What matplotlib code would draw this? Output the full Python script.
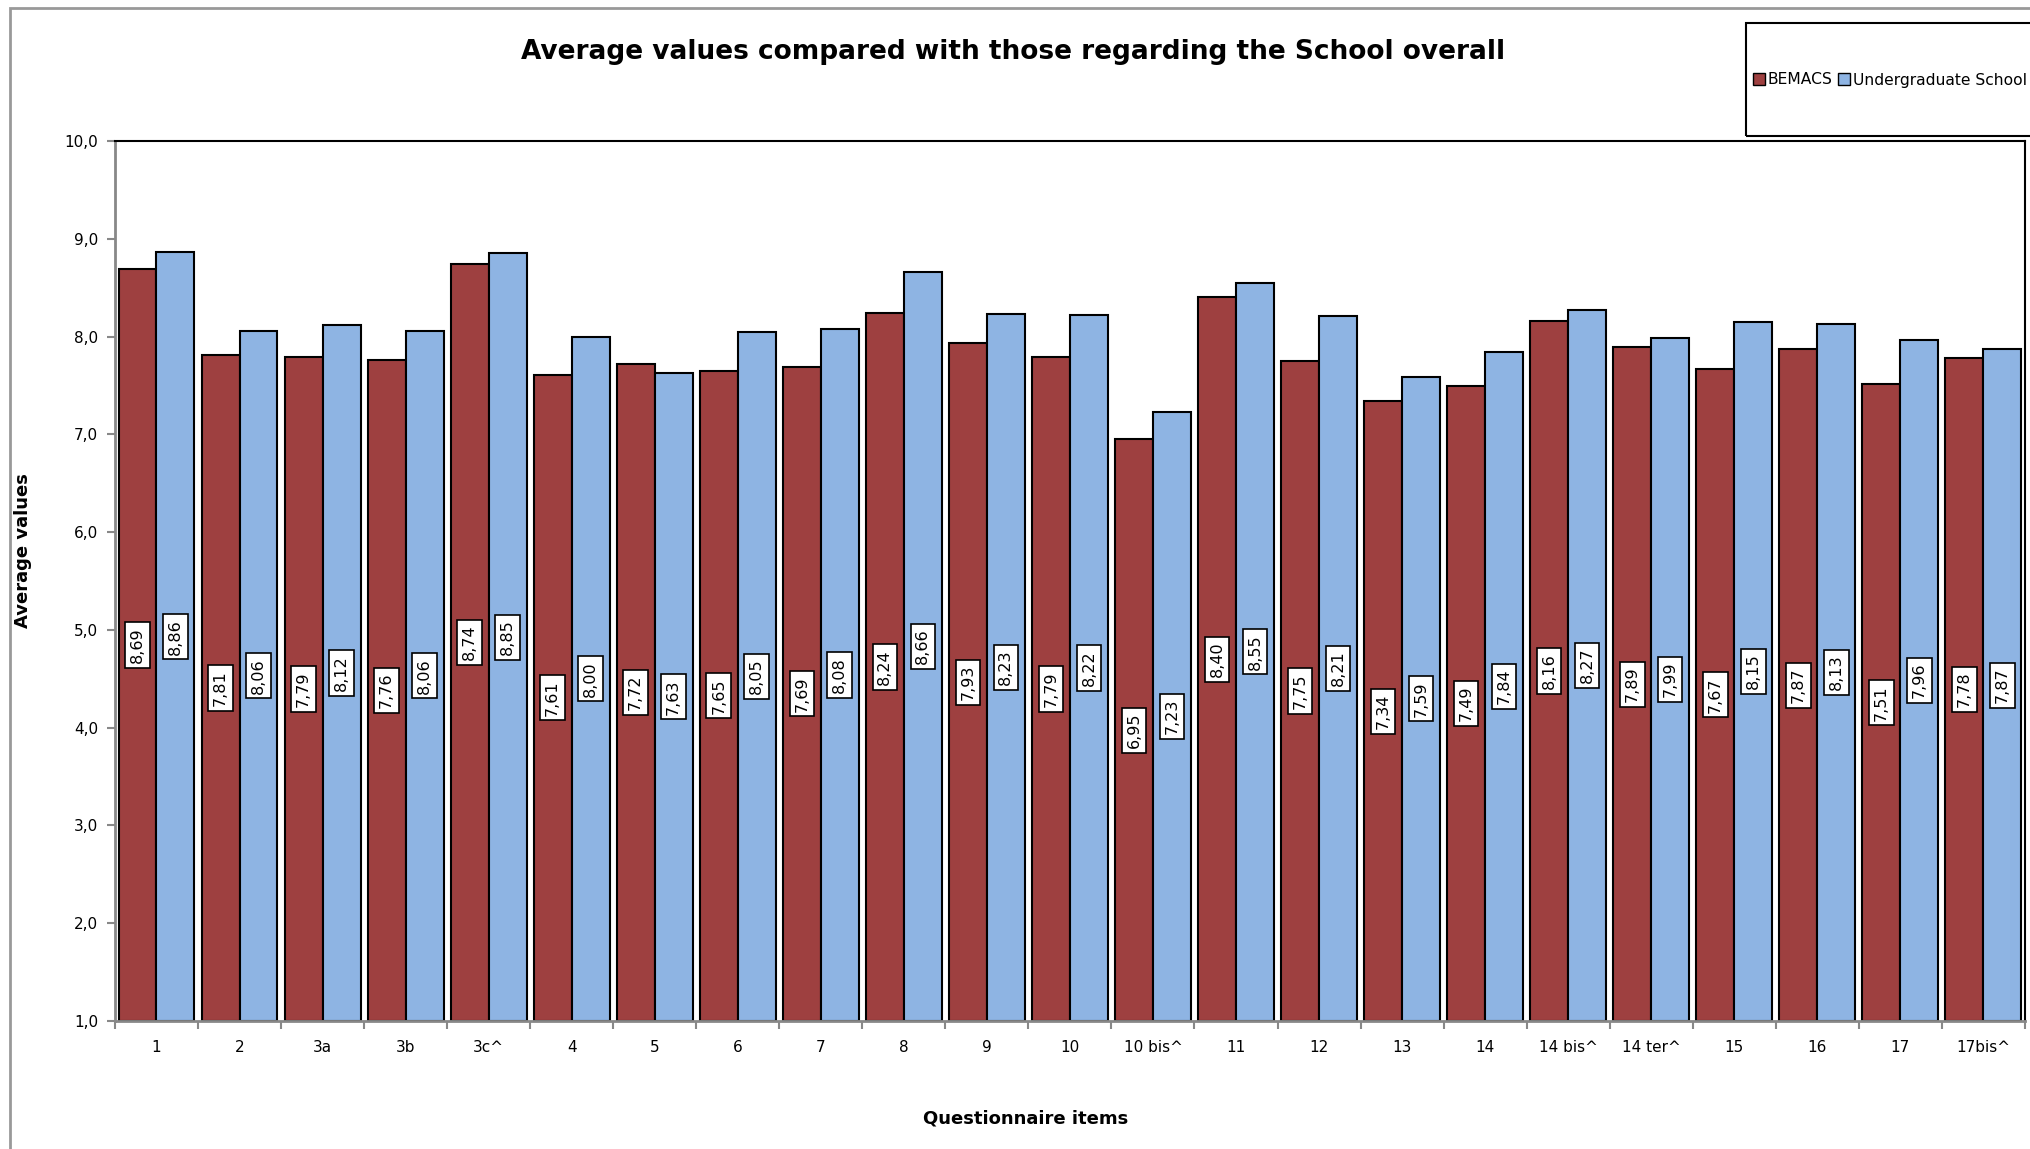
import numpy as np
import matplotlib
matplotlib.use('Agg')
import matplotlib.pyplot as plt
from matplotlib.patches import Rectangle, Patch
from matplotlib.ticker import FuncFormatter

# data
items = ['1', '2', '3a', '3b', '3c^', '4', '5', '6', '7', '8', '9', '10', '10 bis^',
         '11', '12', '13', '14', '14 bis^', '14 ter^', '15', '16', '17', '17bis^']
bemacs = [8.69, 7.81, 7.79, 7.76, 8.74, 7.61, 7.72, 7.65, 7.69, 8.24, 7.93, 7.79, 6.95,
          8.40, 7.75, 7.34, 7.49, 8.16, 7.89, 7.67, 7.87, 7.51, 7.78]
school = [8.86, 8.06, 8.12, 8.06, 8.85, 8.00, 7.63, 8.05, 8.08, 8.66, 8.23, 8.22, 7.23,
          8.55, 8.21, 7.59, 7.84, 8.27, 7.99, 8.15, 8.13, 7.96, 7.87]
series_names = ['BEMACS', 'Undergraduate School']
colors = ['#9E4040', '#8EB4E3']
base = 1.0

plt.rcParams['font.family'] = ['DejaVu Sans']

fig = plt.figure(figsize=(20.31, 11.49), dpi=100)
ax = fig.add_axes([0.0566, 0.1114, 0.9404, 0.7659])

x = np.arange(len(items))
w = 0.457
for vals, off, col in [(bemacs, -w / 2, colors[0]), (school, w / 2, colors[1])]:
    vals = np.array(vals)
    ax.bar(x + off, vals - base, w, bottom=base, color=col, edgecolor='black', linewidth=1.5, zorder=2)
    for xi, v in zip(x + off, vals):
        ax.text(xi, (v + base) / 2, f'{v:.2f}'.replace('.', ','), rotation=90,
                ha='center', va='center', fontsize=11.5, zorder=3,
                bbox=dict(boxstyle='square,pad=0.3', fc='white', ec='black', lw=1.2))

ax.set_xlim(-0.5, len(items) - 0.5)
ax.set_ylim(1, 10)
ax.set_yticks(np.arange(1, 11))
ax.yaxis.set_major_formatter(FuncFormatter(lambda v, p: f'{v:.1f}'.replace('.', ',')))
ax.set_xticks(x)
ax.set_xticklabels(items)
ax.set_xticks(np.arange(-0.5, len(items)), minor=True)
ax.tick_params(axis='x', which='major', length=0, pad=14, labelsize=11)
ax.tick_params(axis='x', which='minor', length=6, color='#888888', width=1.5)
ax.tick_params(axis='y', length=6, color='#888888', width=1.5, pad=6, labelsize=11)

for s in ['top', 'right']:
    ax.spines[s].set_color('black')
    ax.spines[s].set_linewidth(1.5)
for s in ['left', 'bottom']:
    ax.spines[s].set_color('#888888')
    ax.spines[s].set_linewidth(2)

ax.set_ylabel('Average values', fontsize=13, fontweight='bold')
ax.set_xlabel('Questionnaire items', fontsize=13, fontweight='bold')
ax.yaxis.set_label_coords(-0.0435, 0.535)
ax.xaxis.set_label_coords(0.477, -0.101)

fig.text(0.4988, 0.955, 'Average values compared with those regarding the School overall',
         ha='center', va='center', fontsize=19, fontweight='bold')

# outer chart border (cut off at the right and bottom like the screenshot)
fig.patches.append(Rectangle((10 / 2031, -0.1), 1.2, 1.1 - 8 / 1149, transform=fig.transFigure,
                             fill=False, ec='#999999', lw=2))
# legend box
fig.patches.append(Rectangle((1746 / 2031, 1 - 136 / 1149), 0.2, 113 / 1149, transform=fig.transFigure,
                             fill=False, ec='black', lw=1.5))
handles = [Patch(fc=c, ec='black', lw=1) for c in colors]
fig.legend(handles, series_names, loc='center left', bbox_to_anchor=(1753 / 2031, 1 - 80 / 1149),
           ncol=2, frameon=False, fontsize=11.2, handlelength=0.75, handleheight=0.75,
           handletextpad=0.2, columnspacing=0.35, borderaxespad=0, borderpad=0)

fig.savefig('out.png', dpi=100)
